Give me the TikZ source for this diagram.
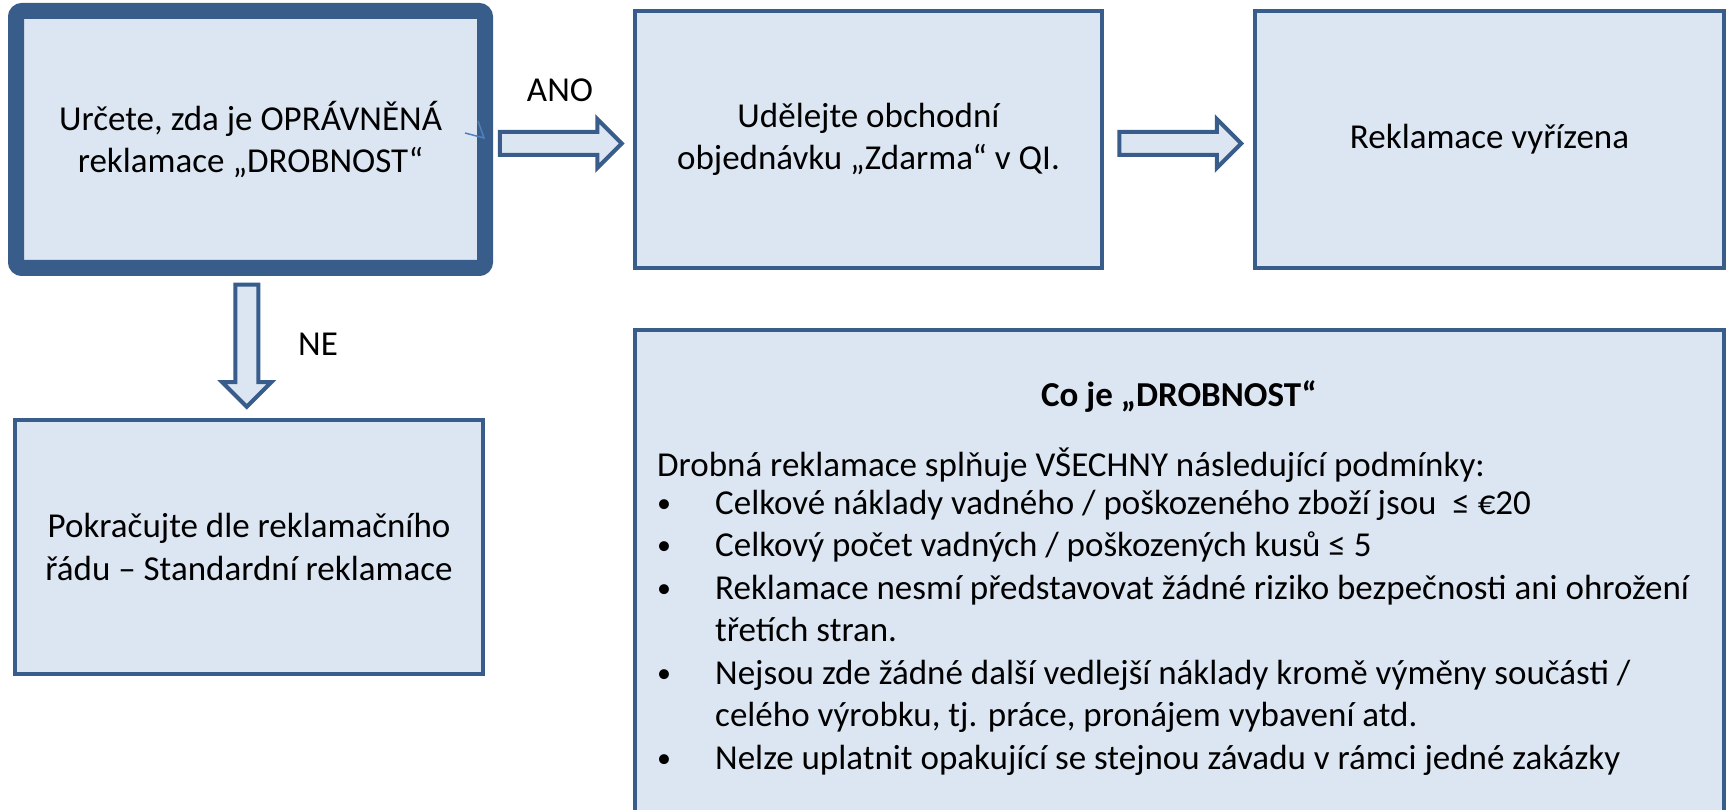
\documentclass[tikz,border=0pt]{standalone}
\usepackage{fontspec}
\setmainfont{Carlito}
\usetikzlibrary{shapes.arrows,calc}

\definecolor{boxline}{RGB}{56,93,138}
\definecolor{boxfill}{RGB}{220,230,242}
\definecolor{strayline}{RGB}{79,129,189}

\newcommand{\boxfont}{\fontsize{35}{42.5}\selectfont}
\newcommand{\bul}{\makebox[58pt][l]{\raisebox{2pt}{\scalebox{0.8}{•}}}}
\newcommand{\cont}{\hspace*{58pt}}

\tikzset{
  stepbox/.style={draw=boxline, fill=boxfill, line width=4pt, outer sep=0pt,
    minimum width=469pt, minimum height=257pt, align=center, inner sep=0pt},
  blockarrow/.style={single arrow, draw=boxline, fill=boxfill, line width=4pt,
    inner xsep=0pt, inner ysep=9.5pt, single arrow head extend=13pt,
    minimum height=122pt},
  lbl/.style={inner sep=0pt}
}

\begin{document}
\begin{tikzpicture}[x=1pt, y=-1pt, font=\boxfont]
  \useasboundingbox (0,0) rectangle (1727,810);

  % Decision and outcomes
  \node[stepbox, line width=16pt, rounded corners=6pt] (check) at (250.5,139.5)
    {Určete, zda je OPRÁVNĚNÁ\\reklamace „DROBNOST“};
  \node[stepbox, minimum width=467pt] (order) at (868.5,139.5)
    {Udělejte obchodní\\objednávku „Zdarma“ v QI.};
  \node[stepbox] (done) at (1489.5,139.5) {Reklamace vyřízena};
  \node[stepbox, minimum width=468pt, minimum height=254pt] (standard) at (249,547)
    {Pokračujte dle reklamačního\\řádu – Standardní reklamace};

  % Block arrows between the boxes
  \node[blockarrow] (toorder) at ($(check.east)!0.5!(order.west)+(-5,4)$) {};
  \node[blockarrow] (todone) at ($(order.east)!0.5!(done.west)+(-4,4)$) {};
  \node[blockarrow, rotate=-90] (tostandard) at ($(check.south)!0.5!(standard.north)+(-3,-4)$) {};
  \node[lbl] (yes) at (560,90) {ANO};
  \node[lbl] (no) at (318,344) {NE};

  % stray mark inside the first box
  \draw[strayline, line width=1.5pt] (465,133) -- (484,138) -- (478,121);

  % Definition box, runs past the bottom edge
  \node[stepbox, minimum width=1089pt, minimum height=520pt] (defbox) at (1179.5,590) {};
  \node[lbl] (deftitle) at (1179,397) {\bfseries Co je „DROBNOST“};
  \node[lbl, anchor=north west, align=left] (conds) at (657,447.5)
    {Drobná reklamace splňuje VŠECHNY následující podmínky:\\[-4.5pt]
     \bul Celkové náklady vadného / poškozeného zboží jsou \ ≤ €20\\
     \bul Celkový počet vadných / poškozených kusů ≤ 5\\
     \bul Reklamace nesmí představovat žádné riziko bezpečnosti ani ohrožení\\
     \cont třetích stran.\\
     \bul Nejsou zde žádné další vedlejší náklady kromě výměny součásti /\\
     \cont celého výrobku, tj. práce, pronájem vybavení atd.\\
     \bul Nelze uplatnit opakující se stejnou závadu v rámci jedné zakázky};
\end{tikzpicture}
\end{document}
